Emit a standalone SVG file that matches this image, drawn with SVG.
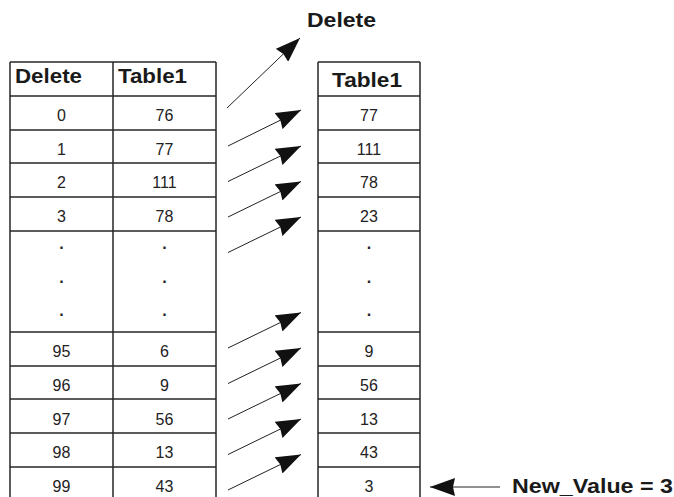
<svg xmlns="http://www.w3.org/2000/svg" width="674" height="497" viewBox="0 0 674 497">
<defs>
<style>
.grid line{stroke:#262626;stroke-width:1.5}
.hd{font-family:"Liberation Sans",Arial,sans-serif;font-weight:bold;font-size:21px;fill:#1a1a1a}
.c{font-family:"Liberation Sans",Arial,sans-serif;font-size:16px;fill:#222;text-anchor:middle}
.d{font-family:"Liberation Sans",Arial,sans-serif;font-size:16px;font-weight:bold;fill:#222;text-anchor:middle}
.conn line{stroke:#222;stroke-width:1;marker-end:url(#ah)}
</style>
<marker id="ah" viewBox="0 0 25 18" markerWidth="25" markerHeight="18" refX="25" refY="9" orient="auto" markerUnits="userSpaceOnUse">
<path d="M0,0 L25,9 L0,18 L2,9 z" fill="#111"/>
</marker>
</defs>
<rect width="674" height="497" fill="#fff"/>

<g id="left-table">
<g class="grid">
<line x1="10" y1="62" x2="10" y2="500"/>
<line x1="113" y1="62" x2="113" y2="500"/>
<line x1="216" y1="62" x2="216" y2="500"/>
<line x1="10" y1="62" x2="216" y2="62"/>
<line x1="10" y1="96" x2="216" y2="96"/>
<line x1="10" y1="130" x2="216" y2="130"/>
<line x1="10" y1="163" x2="216" y2="163"/>
<line x1="10" y1="197" x2="216" y2="197"/>
<line x1="10" y1="231" x2="216" y2="231"/>
<line x1="10" y1="332" x2="216" y2="332"/>
<line x1="10" y1="366" x2="216" y2="366"/>
<line x1="10" y1="399" x2="216" y2="399"/>
<line x1="10" y1="433" x2="216" y2="433"/>
<line x1="10" y1="467" x2="216" y2="467"/>
</g>
<text class="hd" x="15" y="83" textLength="67" lengthAdjust="spacingAndGlyphs">Delete</text>
<text class="hd" x="118" y="83" textLength="69" lengthAdjust="spacingAndGlyphs">Table1</text>
<text class="c" x="61.5" y="120.5">0</text><text class="c" x="164.5" y="120.5">76</text>
<text class="c" x="61.5" y="154.5">1</text><text class="c" x="164.5" y="154.5">77</text>
<text class="c" x="61.5" y="188">2</text><text class="c" x="164.5" y="188">111</text>
<text class="c" x="61.5" y="221.5">3</text><text class="c" x="164.5" y="221.5">78</text>
<text class="d" x="61.5" y="249">.</text><text class="d" x="164.5" y="249">.</text>
<text class="d" x="61.5" y="282.5">.</text><text class="d" x="164.5" y="282.5">.</text>
<text class="d" x="61.5" y="316">.</text><text class="d" x="164.5" y="316">.</text>
<text class="c" x="61.5" y="357">95</text><text class="c" x="164.5" y="357">6</text>
<text class="c" x="61.5" y="391">96</text><text class="c" x="164.5" y="391">9</text>
<text class="c" x="61.5" y="424.5">97</text><text class="c" x="164.5" y="424.5">56</text>
<text class="c" x="61.5" y="458">98</text><text class="c" x="164.5" y="458">13</text>
<text class="c" x="61.5" y="491.5">99</text><text class="c" x="164.5" y="491.5">43</text>
</g>

<g id="right-table">
<g class="grid">
<line x1="318" y1="62" x2="318" y2="500"/>
<line x1="420" y1="62" x2="420" y2="500"/>
<line x1="318" y1="62" x2="420" y2="62"/>
<line x1="318" y1="96" x2="420" y2="96"/>
<line x1="318" y1="130" x2="420" y2="130"/>
<line x1="318" y1="163" x2="420" y2="163"/>
<line x1="318" y1="197" x2="420" y2="197"/>
<line x1="318" y1="231" x2="420" y2="231"/>
<line x1="318" y1="332" x2="420" y2="332"/>
<line x1="318" y1="366" x2="420" y2="366"/>
<line x1="318" y1="399" x2="420" y2="399"/>
<line x1="318" y1="433" x2="420" y2="433"/>
<line x1="318" y1="467" x2="420" y2="467"/>
</g>
<text class="hd" x="332" y="87" textLength="70" lengthAdjust="spacingAndGlyphs">Table1</text>
<text class="c" x="369" y="120.5">77</text>
<text class="c" x="369" y="154.5">111</text>
<text class="c" x="369" y="188">78</text>
<text class="c" x="369" y="221.5">23</text>
<text class="d" x="369" y="249">.</text>
<text class="d" x="369" y="282.5">.</text>
<text class="d" x="369" y="316">.</text>
<text class="c" x="369" y="357">9</text>
<text class="c" x="369" y="391">56</text>
<text class="c" x="369" y="424.5">13</text>
<text class="c" x="369" y="458">43</text>
<text class="c" x="369" y="491.5">3</text>
</g>

<g id="label-delete">
<text class="hd" x="307" y="27" textLength="69" lengthAdjust="spacingAndGlyphs">Delete</text>
</g>

<g id="label-new-value">
<text class="hd" x="512" y="493" textLength="161" lengthAdjust="spacingAndGlyphs">New_Value = 3</text>
</g>

<g id="connectors" class="conn">
<line x1="227" y1="108" x2="300" y2="38"/>
<line x1="228" y1="146" x2="301" y2="110"/>
<line x1="228" y1="181.5" x2="301" y2="146"/>
<line x1="228" y1="217" x2="301" y2="181.5"/>
<line x1="228" y1="252.5" x2="301" y2="217"/>
<line x1="228" y1="348" x2="301" y2="312.5"/>
<line x1="228" y1="383.5" x2="301" y2="348"/>
<line x1="228" y1="419" x2="301" y2="383.5"/>
<line x1="228" y1="454.5" x2="301" y2="419"/>
<line x1="228" y1="490" x2="301" y2="454.5"/>
<line x1="500" y1="487" x2="430" y2="487"/>
</g>
</svg>
